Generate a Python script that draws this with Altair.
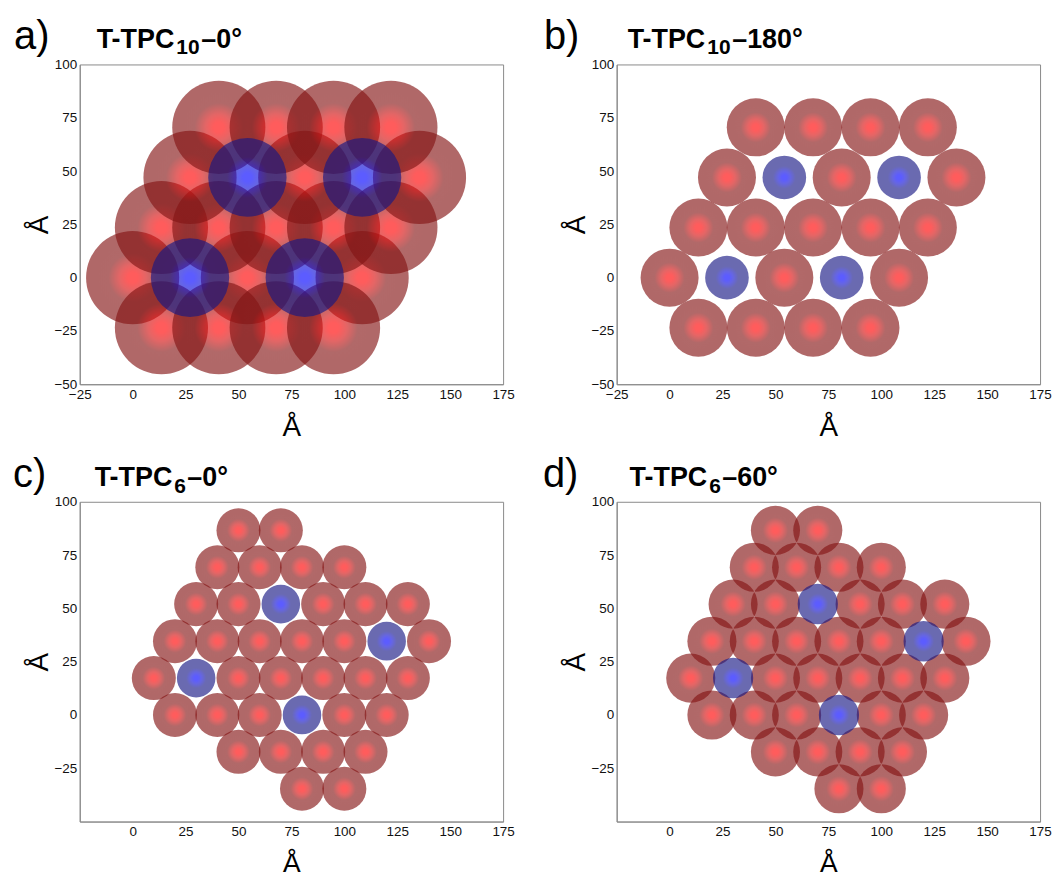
import altair as alt
import pandas as pd

# ---------------- data (Å) ----------------
# panels a) and b): hexagonal lattice, T-TPC10
red_x_ab = [0.0, 54.2, 108.4,
            13.6, 40.7, 67.8, 94.9, 122.0,
            27.1, 81.3, 135.5,
            40.7, 67.8, 94.9, 122.0,
            13.6, 40.7, 67.8, 94.9]
red_y_ab = [0.0, 0.0, 0.0,
            23.5, 23.5, 23.5, 23.5, 23.5,
            47.0, 47.0, 47.0,
            70.5, 70.5, 70.5, 70.5,
            -23.5, -23.5, -23.5, -23.5]
blue_x_ab = [27.1, 81.3, 54.2, 108.4]
blue_y_ab = [0.0, 0.0, 47.0, 47.0]

# panels c) and d): hexagonal lattice, T-TPC6
red_x_cd = [50, 70,
            40, 60, 80, 100,
            30, 50, 90, 110, 130,
            20, 40, 60, 80, 100, 140,
            10, 50, 70, 90, 110, 130,
            20, 40, 60, 100, 120,
            50, 70, 90, 110,
            80, 100]
red_y_cd = [86.6, 86.6,
            69.3, 69.3, 69.3, 69.3,
            52.0, 52.0, 52.0, 52.0, 52.0,
            34.6, 34.6, 34.6, 34.6, 34.6, 34.6,
            17.3, 17.3, 17.3, 17.3, 17.3, 17.3,
            0.0, 0.0, 0.0, 0.0, 0.0,
            -17.3, -17.3, -17.3, -17.3,
            -34.6, -34.6]
blue_x_cd = [70, 120, 30, 80]
blue_y_cd = [52.0, 34.6, 17.3, 0.0]

# particle radii (Å) per panel: (red, blue)
radii = {"a": (22.0, 18.5), "b": (13.7, 10.3), "c": (10.4, 9.1), "d": (11.6, 9.5)}

letters = ["a)", "b)", "c)", "d)"]
titles = [("T-TPC", "10", "–0°"), ("T-TPC", "10", "–180°"),
          ("T-TPC", "6", "–0°"), ("T-TPC", "6", "–60°")]

x_ticks_full = [-25, 0, 25, 50, 75, 100, 125, 150, 175]
y_ticks_full = [-50, -25, 0, 25, 50, 75, 100]
x_ticks_part = [0, 25, 50, 75, 100, 125, 150, 175]
y_ticks_part = [-25, 0, 25, 50, 75, 100]

# ---------------- layout / style ----------------
W, H = 425, 321
XDOM, YDOM = [-25, 175], [-50, 100]
PX = W / (XDOM[1] - XDOM[0])  # pixels per Å
FONT = "Liberation Sans"

RED_FILL = {"gradient": "radial", "x1": 0.5, "y1": 0.5, "r1": 0, "x2": 0.5, "y2": 0.5, "r2": 0.5,
            "stops": [{"offset": 0.0, "color": "#ff0000"},
                      {"offset": 0.11, "color": "#ff0000"},
                      {"offset": 0.28, "color": "#d60f0f"},
                      {"offset": 0.52, "color": "#851414"},
                      {"offset": 1.0, "color": "#831313"}]}
BLUE_FILL = {"gradient": "radial", "x1": 0.5, "y1": 0.5, "r1": 0, "x2": 0.5, "y2": 0.5, "r2": 0.5,
             "stops": [{"offset": 0.0, "color": "#0000ff"},
                       {"offset": 0.11, "color": "#0000ff"},
                       {"offset": 0.28, "color": "#0f0fd6"},
                       {"offset": 0.52, "color": "#161685"},
                       {"offset": 1.0, "color": "#161683"}]}

# label placements relative to plot origin (letter x, title x, baseline y)
label_pos = [(-66, 17, -16), (-73, 11, -16), (-67, 15, -15), (-74, 13, -15)]


def particles(xs, ys, r, fill):
    df = pd.DataFrame({"x": xs, "y": ys})
    df["size"] = (2 * r * PX) ** 2
    return alt.Chart(df).mark_circle(fill=fill, opacity=0.64, strokeWidth=0).encode(
        x=alt.X("x:Q"), y=alt.Y("y:Q"), size=alt.Size("size:Q", scale=None, legend=None))


def text_layer(txt, x, y, size, bold=False):
    return alt.Chart(pd.DataFrame({"t": [txt]})).mark_text(
        align="left", baseline="alphabetic", font=FONT, fontSize=size,
        fontWeight="bold" if bold else "normal", color="#000000").encode(
        x=alt.value(x), y=alt.value(y), text="t:N")


def panel(i, rx, ry, bx, by, full_ticks):
    key = "abcd"[i]
    r_red, r_blue = radii[key]
    lx, tx, ty = label_pos[i]
    main, sub, rest = titles[i]
    sub_w = 12 * len(sub)
    xaxis = alt.Axis(values=x_ticks_full if full_ticks else x_ticks_part, title="Å")
    yaxis = alt.Axis(values=y_ticks_full if full_ticks else y_ticks_part, title="Å")
    base = alt.Chart(pd.DataFrame({"x": [0.0], "y": [0.0]})).mark_point(opacity=0).encode(
        x=alt.X("x:Q", scale=alt.Scale(domain=XDOM, nice=False, zero=False), axis=xaxis),
        y=alt.Y("y:Q", scale=alt.Scale(domain=YDOM, nice=False, zero=False), axis=yaxis))
    layers = [base,
              particles(rx, ry, r_red, RED_FILL),
              particles(bx, by, r_blue, BLUE_FILL),
              text_layer(letters[i], lx, ty, 40),
              text_layer(main, tx, ty - 1, 27, True),
              text_layer(sub, tx + 80, ty + 6, 21, True),
              text_layer(rest, tx + 81 + sub_w, ty - 1, 27, True)]
    return alt.layer(*layers).properties(width=W, height=H)


pa = panel(0, red_x_ab, red_y_ab, blue_x_ab, blue_y_ab, True)
pb = panel(1, red_x_ab, red_y_ab, blue_x_ab, blue_y_ab, True)
pc = panel(2, red_x_cd, red_y_cd, blue_x_cd, blue_y_cd, False)
pd_ = panel(3, red_x_cd, red_y_cd, blue_x_cd, blue_y_cd, False)

chart = alt.concat(pa, pb, pc, pd_, columns=2, spacing={"row": 118, "column": 114},
                   bounds="flush").properties(
    padding={"left": 4, "top": 6, "right": 2, "bottom": 0}
).configure_view(stroke="#8a8a8a", strokeWidth=1).configure_axis(
    labelFont=FONT, labelFontSize=13.5, labelColor="#111111", labelFlush=False,
    labelOverlap=False, labelPadding=3, ticks=False, grid=False,
    domainColor="#8a8a8a", titleFont=FONT, titleFontSize=28, titleFontWeight="normal",
    titleColor="#000000"
).configure_axisX(titlePadding=13).configure_axisY(titlePadding=0)

chart.save("out.html", embed_options={"renderer": "svg", "actions": False})
